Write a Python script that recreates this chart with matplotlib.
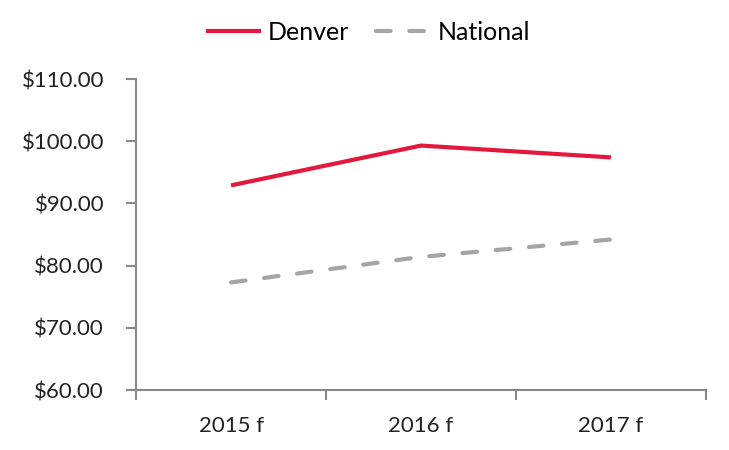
import matplotlib.pyplot as plt

years = ["2015 f", "2016 f", "2017 f"]
denver = [92.9, 99.3, 97.4]
national = [77.3, 81.4, 84.2]
yticks = [60, 70, 80, 90, 100, 110]

plt.rcParams['font.family'] = ['Lato', 'DejaVu Sans']

fig = plt.figure(figsize=(7.29, 4.5), dpi=100)
ax = fig.add_axes([0.1866, 0.1333, 0.7818, 0.6911])

x = range(len(years))
ax.plot(x, denver, color="#E4183C", linewidth=3, solid_capstyle="butt", label="Denver")
ax.plot(x, national, color="#A5A5A5", linewidth=3, dashes=(3.5, 4.5),
        dash_capstyle="round", label="National")

ax.set_xlim(-0.5, len(years) - 0.5)
ax.set_ylim(60, 110)
ax.set_yticks(yticks)
ax.set_yticklabels([f"${v:.2f}" for v in yticks])
ax.set_xticks(x)
ax.set_xticklabels(years)
ax.set_xticks([-0.5, 0.5, 1.5, 2.5], minor=True)
ax.tick_params(axis="x", which="major", length=0, pad=19, labelsize=16, colors="#222222")
ax.tick_params(axis="x", which="minor", length=7, width=1.5, color="#888888")
ax.tick_params(axis="y", length=7, width=1.5, color="#888888", pad=16, labelsize=16,
               labelcolor="#222222")

for s in ["top", "right"]:
    ax.spines[s].set_visible(False)
for s in ["left", "bottom"]:
    ax.spines[s].set_color("#888888")
    ax.spines[s].set_linewidth(1.5)

fig.legend(loc="center", bbox_to_anchor=(0.505, 0.928), ncol=2, frameon=False,
           fontsize=18, handlelength=2.2, columnspacing=1.1, handletextpad=0.25)

fig.savefig("out.png", dpi=100)
